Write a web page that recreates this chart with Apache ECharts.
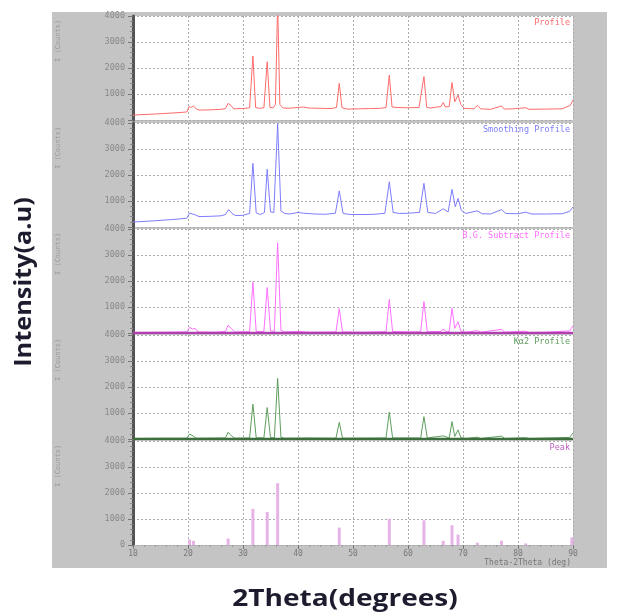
<!DOCTYPE html>
<html><head><meta charset="utf-8">
<script src="https://cdn.jsdelivr.net/npm/echarts@6/dist/echarts.min.js"></script>
<style>html,body{margin:0;padding:0;background:#fff}#c{width:621px;height:613px}</style>
</head><body><div id="c"></div>
<script>
// ---------- data (2Theta in degrees, intensity in counts) ----------
const xTicks = [10, 20, 30, 40, 50, 60, 70, 80, 90];
const yTicks = [0, 1000, 2000, 3000, 4000];
const panelNames = ['Profile', 'Smoothing Profile', 'B.G. Subtract Profile', 'K\u03b12 Profile', 'Peak'];

const rawProfile = [[10,190],[14,230],[18,280],[19.8,310],[20.2,520],[20.6,480],[21,540],[21.5,420],[22,380],[24,390],[26,410],[26.8,440],[27.3,640],[27.8,560],[28.3,430],[30,440],[31.2,470],[31.8,2460],[32.3,480],[33,450],[33.8,470],[34.4,2240],[34.9,480],[35.5,470],[35.9,600],[36.3,4500],[36.7,600],[37.2,470],[38,450],[40,480],[41,500],[42,460],[44,450],[46,440],[47,480],[47.5,1410],[48,470],[49,420],[51,430],[53,440],[55,450],[56,480],[56.6,1730],[57.1,500],[58,480],[60,470],[62,480],[62.9,1670],[63.4,490],[64,460],[66,520],[66.4,670],[66.8,500],[67.5,520],[68.0,1440],[68.5,700],[69.1,960],[69.6,600],[70.2,450],[72,430],[72.6,560],[73.2,430],[75,410],[77,540],[77.5,420],[79,430],[81.4,470],[82,410],[85,420],[88,430],[89.5,560],[90,770]];

const smoothProfile = [[10,190],[14,240],[18,300],[19.8,340],[20.3,540],[20.8,500],[21.3,470],[22,400],[24,410],[26,430],[26.8,480],[27.4,670],[28,520],[28.6,440],[30,450],[31.2,520],[31.8,2450],[32.4,540],[33.2,480],[33.9,560],[34.4,2220],[35,580],[35.6,560],[36.3,3970],[36.9,620],[37.6,520],[38.5,500],[40,560],[41,530],[43,500],[45,490],[46.8,530],[47.5,1390],[48.2,520],[49.5,480],[52,480],[54,490],[55.8,530],[56.6,1740],[57.3,560],[58.5,520],[60,530],[62.1,560],[62.9,1680],[63.6,560],[65,520],[66.4,700],[67.3,580],[68.0,1450],[68.6,780],[69.1,1100],[69.7,640],[70.5,520],[72.6,620],[73.5,510],[75,500],[77,670],[77.8,520],[80,510],[81.4,570],[82.5,500],[85,500],[88,510],[89.4,600],[90,770]];

const bgSubtract = [[10,20],[15,30],[19.8,40],[20.3,220],[20.8,150],[21.3,180],[21.8,40],[25,30],[26.8,60],[27.3,300],[27.9,160],[28.5,40],[31.2,50],[31.8,1960],[32.4,60],[33.8,60],[34.4,1750],[35,80],[35.7,60],[36.3,3470],[36.9,100],[37.6,40],[40,60],[42,30],[46.9,40],[47.5,940],[48.1,40],[52,30],[56,50],[56.6,1290],[57.2,60],[60,40],[62.3,50],[62.9,1210],[63.5,50],[66,60],[66.4,160],[66.9,50],[67.5,60],[68.0,950],[68.5,180],[69.1,430],[69.6,80],[70.5,30],[72.6,90],[73.2,30],[77,140],[77.6,30],[81.4,70],[82,20],[85,30],[89.4,80],[90,280]];

const ka2Strip = [[10,20],[15,30],[19.8,30],[20.3,190],[20.9,120],[21.5,30],[26.8,40],[27.3,260],[27.9,120],[28.5,30],[31.2,40],[31.8,1340],[32.4,50],[33.8,40],[34.4,1210],[35,60],[35.7,40],[36.3,2330],[36.9,60],[37.6,30],[42,40],[46.9,30],[47.5,640],[48.1,30],[56,40],[56.6,1040],[57.2,40],[62.3,40],[62.9,860],[63.5,40],[66.4,120],[67.5,40],[68,670],[68.5,100],[69.1,350],[69.6,50],[70.5,20],[72.6,70],[73.2,20],[77,110],[77.6,20],[81.4,50],[82,20],[89.4,60],[90,230]];

const peakX = [20.3, 21.0, 27.3, 31.8, 34.4, 36.3, 47.5, 56.6, 62.9, 66.4, 68.0, 69.1, 72.6, 77.0, 81.4, 89.8];
const peakY = [210, 160, 250, 1390, 1270, 2380, 670, 1010, 950, 160, 760, 400, 90, 160, 60, 290];

const zeroLine = [[10, 0], [90, 0]];

// ---------- layout ----------
const colors = ['#ff6b6b', '#7d7dff', '#ff70ff', '#5e9e5e', '#c060c0'];
const panelTop = [16, 123, 229, 335, 441];
const panelH = 104;
const plotLeft = 133, plotRight = 573;

const chart = echarts.init(document.getElementById('c'), null, {renderer: 'canvas'});

const gridLine = {color: '#ababab', type: [2, 2], width: 1};
const grids = [], xAxes = [], yAxes = [], series = [];
for (let i = 0; i < 5; i++) {
  const last = i === 4;
  grids.push({left: plotLeft, width: plotRight - plotLeft, top: panelTop[i], height: panelH,
    show: true, backgroundColor: '#ffffff', borderWidth: 0});
  xAxes.push({type: 'value', gridIndex: i, min: xTicks[0], max: xTicks[xTicks.length - 1], interval: 10,
    axisLine: {show: last, lineStyle: gridLine},
    axisTick: {show: last, length: 4, lineStyle: {color: '#777'}},
    minorTick: {show: last, splitNumber: 5, length: 2, lineStyle: {color: '#999'}},
    axisLabel: {show: last, fontSize: 8, color: '#777', margin: 5, fontFamily: 'DejaVu Sans Mono'},
    splitLine: {show: true, lineStyle: gridLine}});
  yAxes.push({type: 'value', gridIndex: i, min: yTicks[0], max: yTicks[yTicks.length - 1], interval: 1000,
    axisLine: {show: true, onZero: false, lineStyle: {color: '#555', width: 3}},
    axisTick: {show: true, length: 5, lineStyle: {color: '#777'}},
    minorTick: {show: true, splitNumber: 5, length: 3, lineStyle: {color: '#888'}},
    axisLabel: {fontSize: 8.5, color: '#888', margin: 8, fontFamily: 'DejaVu Sans Mono',
      formatter: v => (v === 0 && !last) ? '' : String(v)},
    splitLine: {show: true, lineStyle: gridLine}});
}

const lineData = [rawProfile, smoothProfile, bgSubtract, ka2Strip];
lineData.forEach((d, i) => {
  series.push({type: 'line', xAxisIndex: i, yAxisIndex: i, data: d, showSymbol: false, clip: true,
    lineStyle: {color: colors[i], width: 1}, silent: true, z: 3});
});
series.push({type: 'line', xAxisIndex: 2, yAxisIndex: 2, data: zeroLine, showSymbol: false,
  lineStyle: {color: '#b040b0', width: 2.5}, z: 4});
series.push({type: 'line', xAxisIndex: 3, yAxisIndex: 3, data: zeroLine, showSymbol: false,
  lineStyle: {color: '#3d6e3d', width: 2.5}, z: 4});
series.push({type: 'bar', xAxisIndex: 4, yAxisIndex: 4, barWidth: 3,
  data: peakX.map((x, k) => [x, peakY[k]]),
  itemStyle: {color: '#e6b3e6'}, z: 3});

const graphics = [
  {type: 'rect', z: -10, shape: {x: 52, y: 12, width: 555, height: 556}, style: {fill: '#c4c4c4'}},
  {type: 'text', x: 24, y: 282, rotation: Math.PI / 2, scaleX: 1.1,
    style: {text: 'Intensity(a.u)', font: 'bold 23px "Open Sans"', fill: '#1c1c2e', textAlign: 'center', textVerticalAlign: 'middle'}},
  {type: 'text', x: 345, y: 599, scaleX: 1.22,
    style: {text: '2Theta(degrees)', font: 'bold 23px "Open Sans"', fill: '#1c1c2e', textAlign: 'center', textVerticalAlign: 'middle'}},
  {type: 'text', x: 571, y: 563,
    style: {text: 'Theta-2Theta (deg)', font: '8px "DejaVu Sans Mono"', fill: '#777', textAlign: 'right', textVerticalAlign: 'middle'}}
];
for (let i = 0; i < 5; i++) {
  graphics.push({type: 'text', x: 58, y: panelTop[i] + 46, rotation: Math.PI / 2,
    style: {text: 'I (Counts)', font: '7px "DejaVu Sans Mono"', fill: '#999', textAlign: 'left', textVerticalAlign: 'middle'}});
  graphics.push({type: 'text', x: 570, y: panelTop[i] + 7, z: 10,
    style: {text: panelNames[i], font: '8.5px "DejaVu Sans Mono"', fill: colors[i], textAlign: 'right', textVerticalAlign: 'middle'}});
}

chart.setOption({
  animation: false,
  backgroundColor: '#ffffff',
  grid: grids, xAxis: xAxes, yAxis: yAxes, series: series,
  graphic: graphics
});
</script></body></html>
